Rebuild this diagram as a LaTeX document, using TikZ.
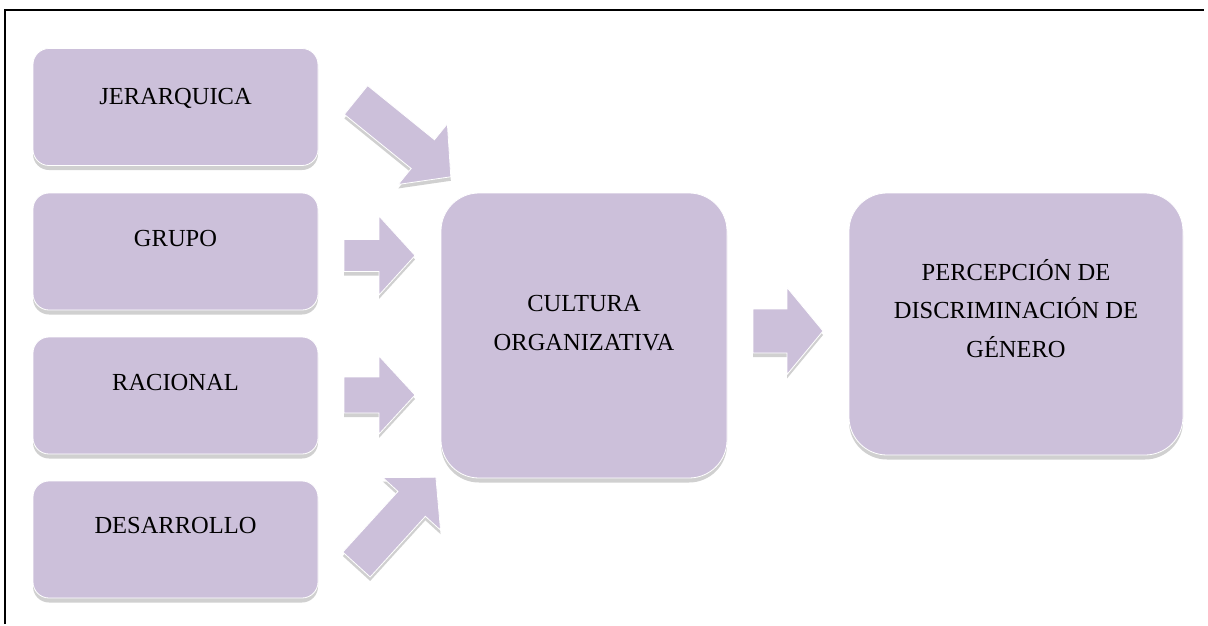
\documentclass[tikz,border=0pt]{standalone}
\usepackage{fontspec}
\setmainfont{Liberation Serif}
\usetikzlibrary{calc,shadows}

\definecolor{lav}{RGB}{204,192,218}
\definecolor{shgray}{RGB}{208,208,208}

\tikzset{
  card/.style={fill=lav, draw=white, line width=0.8pt, rounded corners=#1,
    inner sep=0pt,
    drop shadow={shadow xshift=0pt, shadow yshift=-4.5pt, fill=shgray, opacity=1}},
  card/.default=16pt,
  lbl/.style={inner sep=0pt, font=\fontsize{24.5}{38}\selectfont, text=black},
  frameline/.style={line width=2pt, draw=black}
}

% block arrow: tail centre (#1,#2), angle #3, length #4, shaft width #5, head width #6
\newcommand\blockarrow[6]{%
  \begin{scope}[shift={(#1,#2+4)},rotate=#3]
    \fill[shgray] (0,-#5/2) -- (#4-36,-#5/2) -- (#4-36,-#6/2) -- (#4,0)
      -- (#4-36,#6/2) -- (#4-36,#5/2) -- (0,#5/2) -- cycle;
  \end{scope}
  \begin{scope}[shift={(#1,#2)},rotate=#3]
    \filldraw[fill=lav, draw=white, line width=0.8pt] (0,-#5/2) -- (#4-36,-#5/2)
      -- (#4-36,-#6/2) -- (#4,0) -- (#4-36,#6/2) -- (#4-36,#5/2) -- (0,#5/2) -- cycle;
  \end{scope}}

\begin{document}
\begin{tikzpicture}[x=1pt,y=-1pt]
\fill[white] (0,0) rectangle (1208,625);
\useasboundingbox (0,0) rectangle (1208,625);

% frame (only its left and top sides fall inside the picture)
\draw[frameline] (5,624) -- (5,10) -- (1204,10);

% left column of cultures
\node[card, minimum width=285pt, minimum height=117pt] (jer) at (175.5,107) {};
\node[card, minimum width=285pt, minimum height=117pt] (gru) at (175.5,251.5) {};
\node[card, minimum width=285pt, minimum height=117pt] (rac) at (175.5,395.5) {};
\node[card, minimum width=285pt, minimum height=117pt] (des) at (175.5,539.5) {};

\node[lbl, anchor=base] (tjer) at ($(jer.north)+(0,56)$) {JERARQUICA};
\node[lbl, anchor=base] (tgru) at ($(gru.north)+(0,54)$) {GRUPO};
\node[lbl, anchor=base] (trac) at ($(rac.north)+(0,54)$) {RACIONAL};
\node[lbl, anchor=base] (tdes) at ($(des.north)+(0,53)$) {DESARROLLO};

% central and result boxes
\node[card=38pt, minimum width=286pt, minimum height=285pt] (cul) at (584,335.5) {};
\node[lbl, anchor=base] (tcul1) at (584,311) {CULTURA};
\node[lbl, anchor=base] (tcul2) at (584,350) {ORGANIZATIVA};

\node[card=38pt, minimum width=334pt, minimum height=262pt] (per) at (1016,324) {};
\node[lbl, anchor=base] (tper1) at (1016,280) {PERCEPCIÓN DE};
\node[lbl, anchor=base] (tper2) at (1016,318.5) {DISCRIMINACIÓN DE};
\node[lbl, anchor=base] (tper3) at (1016,357) {GÉNERO};

% block arrows
\blockarrow{356}{100}{-39}{122}{37}{78}
\blockarrow{344}{255.5}{0}{71}{32}{79}
\blockarrow{344}{395}{0}{71}{36}{78}
\blockarrow{356.5}{564.5}{47.7}{118}{37}{78}
\blockarrow{753}{331}{0}{70}{44}{87}
\end{tikzpicture}
\end{document}
